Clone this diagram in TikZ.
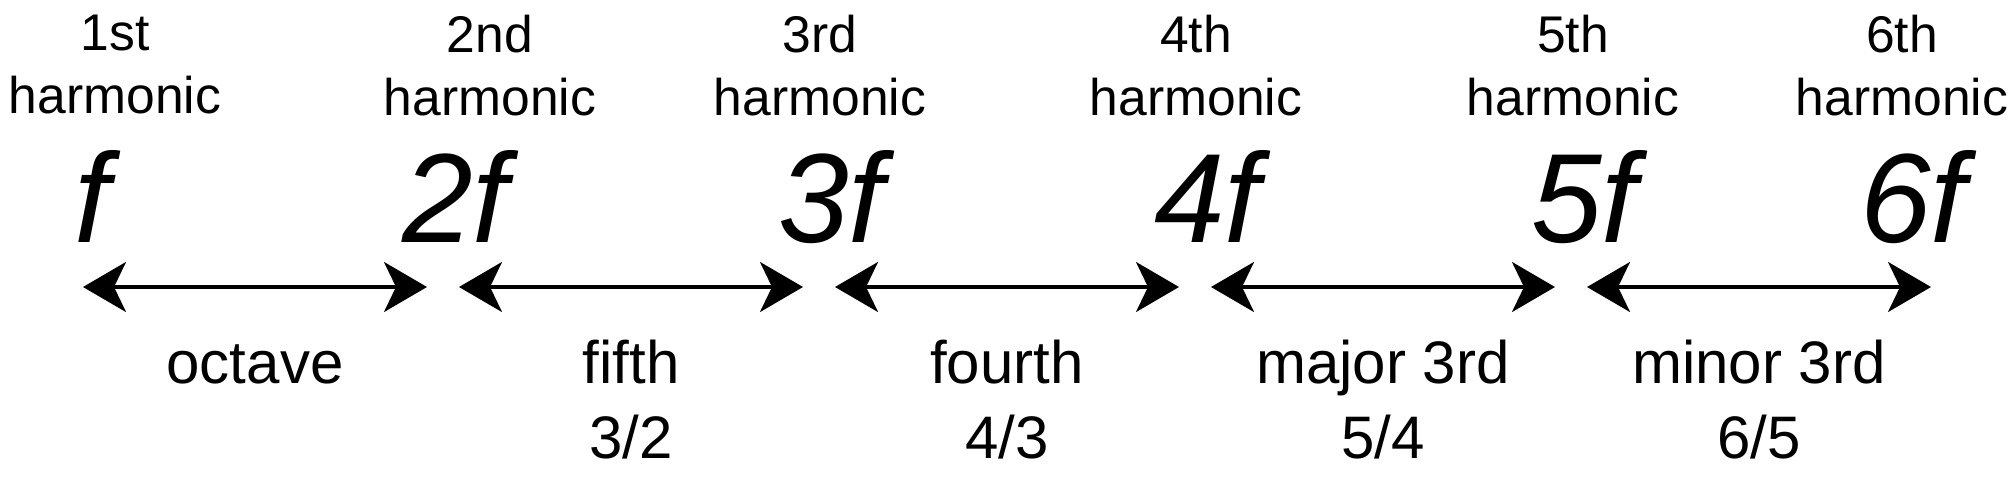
\documentclass[tikz,border=0pt]{standalone}
\usepackage{fontspec}
\setmainfont{Liberation Sans}
\usetikzlibrary{arrows.meta}

\begin{document}
\begin{tikzpicture}[x=0.5pt,y=-0.5pt,
      every node/.style={inner sep=0pt,align=center},
      harm/.style={anchor=north,font=\fontsize{25.8pt}{31.5pt}\selectfont},
      freq/.style={anchor=base,font=\fontsize{63.5pt}{70pt}\selectfont\itshape},
      ival/.style={anchor=base,font=\fontsize{30pt}{37.5pt}\selectfont},
      iv/.style={{Stealth[length=21.5pt,width=25pt,inset=6pt]}-{Stealth[length=21.5pt,width=25pt,inset=6pt]},
        line width=1.7pt,shorten <=8pt,shorten >=8pt}]
    \useasboundingbox (0,0) rectangle (2016,482);
    \node[harm] (h1) at (115,15) {1st\\harmonic};
    \node[harm] (h2) at (490,15) {2nd\\harmonic};
    \node[harm] (h3) at (820,15) {3rd\\harmonic};
    \node[harm] (h4) at (1196,15) {4th\\harmonic};
    \node[harm] (h5) at (1573,15) {5th\\harmonic};
    \node[harm] (h6) at (1902,15) {6th\\harmonic};
    \node[freq] (f1) at (92,242) {f};
    \node[freq] (f2) at (455,242) {2f};
    \node[freq] (f3) at (831,242) {3f};
    \node[freq] (f4) at (1207,242) {4f};
    \node[freq] (f5) at (1584,242) {5f};
    \node[freq] (f6) at (1913,242) {6f};
    \coordinate (g0) at (67,287);
    \coordinate (g1) at (443,287);
    \coordinate (g2) at (819,287);
    \coordinate (g3) at (1195,287);
    \coordinate (g4) at (1571,287);
    \coordinate (g5) at (1947,287);
    \draw[iv] (g0) -- (g1);
    \draw[iv] (g1) -- (g2);
    \draw[iv] (g2) -- (g3);
    \draw[iv] (g3) -- (g4);
    \draw[iv] (g4) -- (g5);
    \node[ival,anchor=north] (i1) at (255,340) {\vphantom{f}octave};
    \node[ival,anchor=north] (i2) at (631,340) {fifth\\3/2};
    \node[ival,anchor=north] (i3) at (1007,340) {fourth\\4/3};
    \node[ival,anchor=north] (i4) at (1383,340) {\vphantom{f}major 3rd\\5/4};
    \node[ival,anchor=north] (i5) at (1759,340) {\vphantom{f}minor 3rd\\6/5};
  \end{tikzpicture}
\end{document}
